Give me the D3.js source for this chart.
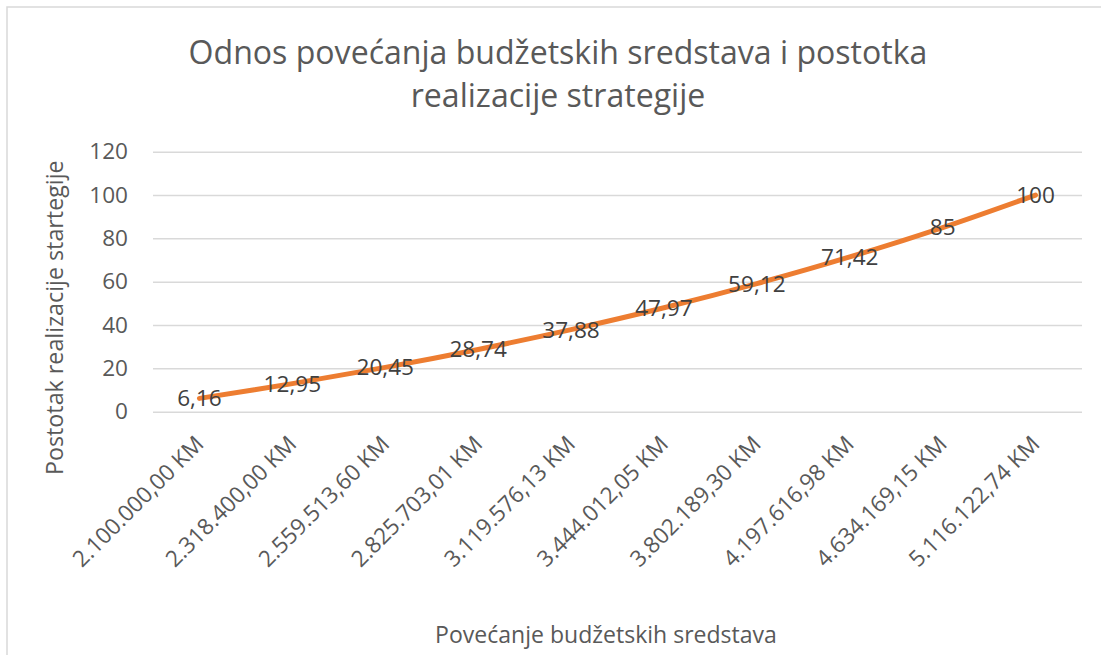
<!DOCTYPE html>
<html>
<head>
<meta charset="utf-8">
<script src="https://cdn.jsdelivr.net/npm/d3@7"></script>
<style>
  body { margin: 0; background: #fff; }
  svg text { font-family: "Open Sans", sans-serif; }
</style>
</head>
<body>
<div id="chart"></div>
<script>
// data
var categories = ["2.100.000,00 KM", "2.318.400,00 KM", "2.559.513,60 KM", "2.825.703,01 KM",
  "3.119.576,13 KM", "3.444.012,05 KM", "3.802.189,30 KM", "4.197.616,98 KM",
  "4.634.169,15 KM", "5.116.122,74 KM"];
var values = [6.16, 12.95, 20.45, 28.74, 37.88, 47.97, 59.12, 71.42, 85, 100];
var yTicks = [0, 20, 40, 60, 80, 100, 120];
var titleLines = ["Odnos povećanja budžetskih sredstava i postotka", "realizacije strategije"];
var yTitle = "Postotak realizacije startegije";
var xTitle = "Povećanje budžetskih sredstava";

var W = 1101, H = 655;
var plot = {left: 153, right: 1082, top: 151.7, bottom: 411.7};

// scale a text's font so it spans the given width (no Calibri here)
function fitFont(node, width) {
  var size = parseFloat(node.style.fontSize);
  var len = node.getComputedTextLength();
  return size * width / len;
}

var svg = d3.select("#chart").append("svg")
  .attr("width", W)
  .attr("height", H);

// chart border (runs off the right and bottom edges)
svg.append("rect")
  .attr("x", 7).attr("y", 7)
  .attr("width", 1110).attr("height", 670)
  .attr("fill", "#fff")
  .attr("stroke", "#d9d9d9")
  .attr("stroke-width", 1.5);

var x = d3.scaleBand()
  .domain(categories)
  .range([plot.left, plot.right]);

var y = d3.scaleLinear()
  .domain([0, 120])
  .range([plot.bottom, plot.top]);

// title
var title = svg.append("text")
  .attr("text-anchor", "middle")
  .attr("fill", "#595959")
  .style("font-size", "30px");
title.selectAll("tspan")
  .data(titleLines)
  .enter().append("tspan")
    .attr("x", 558)
    .attr("y", function(d, i) { return 64 + i * 43; })
    .text(function(d) { return d; });
var t1 = title.select("tspan").node();
var tsize = 30 * 739 / t1.getComputedTextLength();
title.style("font-size", tsize + "px");

// y axis with gridlines
var yAxis = d3.axisLeft(y)
  .tickValues(yTicks)
  .tickSize(-(plot.right - plot.left))
  .tickPadding(25);

var gy = svg.append("g")
  .attr("transform", "translate(" + plot.left + ",0)")
  .call(yAxis);
gy.select(".domain").remove();
gy.selectAll(".tick line")
  .attr("stroke", "#d9d9d9")
  .attr("stroke-width", 1.5);

// x axis, rotated labels
var xAxis = d3.axisBottom(x).tickSize(0);
var gx = svg.append("g")
  .attr("transform", "translate(0," + plot.bottom + ")")
  .call(xAxis);
gx.select(".domain").remove();
gx.selectAll(".tick text")
  .attr("x", 0)
  .attr("y", 0)
  .attr("dy", "0.35em")
  .attr("text-anchor", "end")
  .attr("transform", "translate(0,28) rotate(-45)")
  .attr("fill", "#595959")
  .style("font-size", "20px");
var labelSize = fitFont(gx.select(".tick text").node(), 174);
gx.selectAll(".tick text").style("font-size", labelSize + "px");

gy.selectAll(".tick text")
  .attr("fill", "#595959")
  .style("font-size", labelSize + "px");

// axis titles
var yt = svg.append("text")
  .attr("transform", "translate(63," + ((plot.top + plot.bottom) / 2 + 36) + ") rotate(-90)")
  .attr("text-anchor", "middle")
  .attr("fill", "#595959")
  .style("font-size", "20px")
  .text(yTitle);
yt.style("font-size", fitFont(yt.node(), 315) + "px");

var xt = svg.append("text")
  .attr("x", 606)
  .attr("y", 643)
  .attr("text-anchor", "middle")
  .attr("fill", "#595959")
  .style("font-size", "20px")
  .text(xTitle);
xt.style("font-size", fitFont(xt.node(), 342) + "px");

// the line
var line = d3.line()
  .x(function(d, i) { return x(categories[i]) + x.bandwidth() / 2; })
  .y(function(d) { return y(d); })
  .curve(d3.curveCatmullRom.alpha(0.5));

svg.append("path")
  .datum(values)
  .attr("d", line)
  .attr("fill", "none")
  .attr("stroke", "#ed7d31")
  .attr("stroke-width", 5)
  .attr("stroke-linecap", "round");

// data labels, centred on the points
svg.selectAll(".lbl")
  .data(values)
  .enter().append("text")
    .attr("class", "lbl")
    .attr("x", function(d, i) { return x(categories[i]) + x.bandwidth() / 2; })
    .attr("y", function(d) { return y(d); })
    .attr("dy", "0.35em")
    .attr("text-anchor", "middle")
    .attr("fill", "#404040")
    .style("font-size", labelSize + "px")
    .text(function(d) { return String(d).replace(".", ","); });
</script>
</body>
</html>
